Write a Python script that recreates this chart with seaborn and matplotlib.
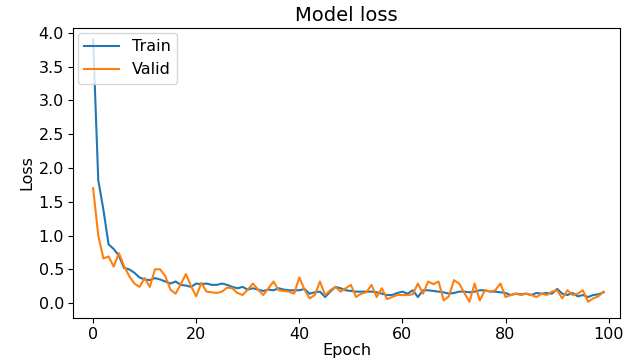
import numpy as np
import pandas as pd
import matplotlib
matplotlib.use("Agg")
import matplotlib.pyplot as plt
import seaborn as sns

# Loss values (one per epoch, 0..99)
train_loss = [3.90, 1.82, 1.38, 0.87, 0.80, 0.70, 0.52, 0.50, 0.45, 0.38,
              0.35, 0.34, 0.37, 0.35, 0.32, 0.29, 0.32, 0.27, 0.26, 0.24,
              0.29, 0.28, 0.29, 0.27, 0.27, 0.29, 0.27, 0.24, 0.22, 0.24,
              0.20, 0.22, 0.20, 0.18, 0.20, 0.19, 0.22, 0.20, 0.19, 0.19,
              0.19, 0.21, 0.14, 0.16, 0.17, 0.09, 0.17, 0.24, 0.22, 0.19,
              0.18, 0.17, 0.17, 0.17, 0.17, 0.16, 0.14, 0.12, 0.12, 0.15,
              0.17, 0.14, 0.19, 0.09, 0.19, 0.19, 0.18, 0.17, 0.16, 0.14,
              0.15, 0.17, 0.17, 0.16, 0.17, 0.19, 0.19, 0.17, 0.17, 0.16,
              0.15, 0.12, 0.14, 0.13, 0.14, 0.12, 0.15, 0.14, 0.15, 0.14,
              0.21, 0.14, 0.12, 0.15, 0.10, 0.12, 0.09, 0.12, 0.13, 0.16]
valid_loss = [1.70, 1.00, 0.66, 0.69, 0.54, 0.74, 0.55, 0.40, 0.29, 0.24,
              0.37, 0.24, 0.50, 0.50, 0.40, 0.20, 0.14, 0.28, 0.43, 0.25,
              0.10, 0.30, 0.17, 0.16, 0.15, 0.17, 0.23, 0.22, 0.15, 0.12,
              0.20, 0.29, 0.20, 0.12, 0.22, 0.32, 0.19, 0.18, 0.17, 0.14,
              0.38, 0.20, 0.07, 0.12, 0.32, 0.12, 0.19, 0.24, 0.17, 0.22,
              0.27, 0.09, 0.14, 0.16, 0.27, 0.09, 0.22, 0.06, 0.09, 0.12,
              0.12, 0.12, 0.13, 0.29, 0.14, 0.32, 0.28, 0.32, 0.04, 0.10,
              0.34, 0.29, 0.15, 0.02, 0.29, 0.04, 0.19, 0.17, 0.19, 0.29,
              0.09, 0.12, 0.14, 0.12, 0.14, 0.12, 0.09, 0.14, 0.12, 0.17,
              0.19, 0.07, 0.19, 0.12, 0.14, 0.19, 0.02, 0.07, 0.10, 0.17]
epochs = list(range(len(train_loss)))
series_names = ["Train", "Valid"]
x_ticks = [0, 20, 40, 60, 80, 100]
y_ticks = [0.0, 0.5, 1.0, 1.5, 2.0, 2.5, 3.0, 3.5, 4.0]

# long format for seaborn
df = pd.DataFrame({
    "Epoch": epochs + epochs,
    "Loss": train_loss + valid_loss,
    "set": [series_names[0]] * len(epochs) + [series_names[1]] * len(epochs),
})

fig = plt.figure(figsize=(6.23, 3.59), dpi=100)
ax = fig.add_axes([73 / 623, 1 - 318 / 359, (620 - 73) / 623, (318 - 28) / 359])

sns.lineplot(data=df, x="Epoch", y="Loss", hue="set",
             palette=["#1f77b4", "#ff7f0e"], linewidth=1.5, ax=ax)

ax.set_title("Model loss", fontsize=14, pad=5)
ax.set_xlabel("Epoch", fontsize=11.5, labelpad=1)
ax.set_ylabel("Loss", fontsize=11.5, labelpad=3)
ax.set_xticks(x_ticks)
ax.set_yticks(y_ticks)
ax.tick_params(labelsize=11.5, pad=3)
ax.set_xlim(-3.9, 102.2)
ax.set_ylim(-0.22, 4.07)
ax.legend(loc="upper left", title=None, fontsize=11.5,
          borderaxespad=0.3, handlelength=2.2)

fig.savefig("out.png", dpi=100)
